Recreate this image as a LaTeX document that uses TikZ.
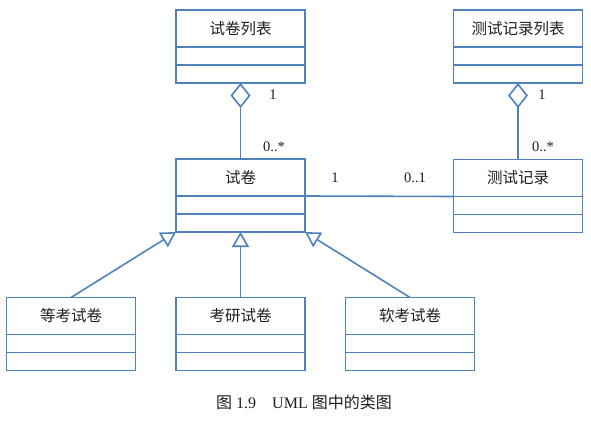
\documentclass[tikz,border=0pt]{standalone}
\usepackage{fontspec}
\setmainfont{Liberation Serif}
\newfontfamily\cjk{Noto Sans CJK SC}
\usetikzlibrary{positioning, arrows.meta}
\definecolor{UmlBlue}{RGB}{79, 129, 189}
\definecolor{TextGray}{RGB}{30, 30, 30}

\begin{document}
\begin{tikzpicture}[x=1pt, y=-1pt,
    clshead/.style={draw=UmlBlue, line width=1.6pt, minimum width=129pt, minimum height=37pt,
      inner sep=0pt, outer sep=0pt, text=TextGray, font=\cjk\fontsize{15.5}{17}\selectfont},
    clspart/.style={draw=UmlBlue, line width=1.6pt, minimum width=129pt, minimum height=18pt,
      inner sep=0pt, outer sep=0pt},
    aggr/.style={draw=UmlBlue, line width=1.6pt, {Diamond[open, fill=white, length=25pt, width=20pt]}-},
    gen/.style={draw=UmlBlue, line width=1.6pt, -{Triangle[open, fill=white, length=15pt, width=17pt]}},
    assoc/.style={draw=UmlBlue, line width=1.6pt},
    mult/.style={text=TextGray, font=\fontsize{14.5}{16}\selectfont}]
    \useasboundingbox (0,0) rectangle (591,425);

    % Exam paper list
    \node[clshead] (sjlb) at (240.5,28.5) {试卷列表};
    \node[clspart, below=0pt of sjlb] (sjlb-a) {};
    \node[clspart, below=0pt of sjlb-a] (sjlb-o) {};

    % Test record list
    \node[clshead] (jllb) at (518,28.5) {测试记录列表};
    \node[clspart, below=0pt of jllb] (jllb-a) {};
    \node[clspart, below=0pt of jllb-a] (jllb-o) {};

    % Exam paper
    \node[clshead] (sj) at (240.5,177.5) {试卷};
    \node[clspart, below=0pt of sj] (sj-a) {};
    \node[clspart, below=0pt of sj-a] (sj-o) {};

    % Test record
    \node[clshead] (jl) at (518,178) {测试记录};
    \node[clspart, below=0pt of jl] (jl-a) {};
    \node[clspart, below=0pt of jl-a] (jl-o) {};

    % Sub classes
    \node[clshead] (dk) at (71,316) {等考试卷};
    \node[clspart, below=0pt of dk] (dk-a) {};
    \node[clspart, below=0pt of dk-a] (dk-o) {};

    \node[clshead] (ky) at (240.5,316) {考研试卷};
    \node[clspart, below=0pt of ky] (ky-a) {};
    \node[clspart, below=0pt of ky-a] (ky-o) {};

    \node[clshead] (rk) at (410,316) {软考试卷};
    \node[clspart, below=0pt of rk] (rk-a) {};
    \node[clspart, below=0pt of rk-a] (rk-o) {};

    % Aggregations
    \draw[aggr] (sjlb-o.south) -- (sj.north);
    \draw[aggr] (jllb-o.south) -- (jl.north);
    \node[mult] (m1) at (273,95) {1};
    \node[mult] (m2) at (274,147) {0..*};
    \node[mult] (m3) at (542,95) {1};
    \node[mult] (m4) at (543,147) {0..*};

    % Association
    \draw[assoc] (sj.south east) -- (jl.south west);
    \node[mult] (m5) at (335,178) {1};
    \node[mult] (m6) at (415,178) {0..1};

    % Generalizations
    \draw[gen] (dk.north) -- (sj-o.south west);
    \draw[gen] (ky.north) -- (sj-o.south);
    \draw[gen] (rk.north) -- (sj-o.south east);

    % Caption
    \node[text=TextGray, font=\fontsize{16}{18}\selectfont] (cap) at (304,402)
      {{\cjk 图} 1.9\quad UML {\cjk 图中的类图}};
\end{tikzpicture}
\end{document}
